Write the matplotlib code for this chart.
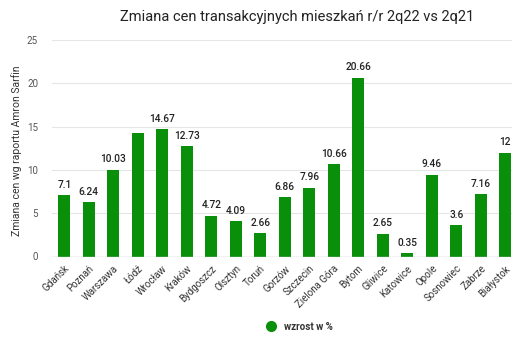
import numpy as np
import matplotlib
matplotlib.use("Agg")
import matplotlib.pyplot as plt
from matplotlib.lines import Line2D

# ── Data ────────────────────────────────────────────────────────────────────
cities = ["Gdańsk", "Poznań", "Warszawa", "Łódź", "Wrocław", "Kraków",
          "Bydgoszcz", "Olsztyn", "Toruń", "Gorzów", "Szczecin",
          "Zielona Góra", "Bytom", "Gliwice", "Katowice", "Opole",
          "Sosnowiec", "Zabrze", "Białystok"]
growth = [7.1, 6.24, 10.03, 14.3, 14.67, 12.73, 4.72, 4.09, 2.66, 6.86,
          7.96, 10.66, 20.66, 2.65, 0.35, 9.46, 3.6, 7.16, 12]
# value labels as shown on the chart (Łódź has none)
labels = ["7.1", "6.24", "10.03", "", "14.67", "12.73", "4.72", "4.09",
          "2.66", "6.86", "7.96", "10.66", "20.66", "2.65", "0.35", "9.46",
          "3.6", "7.16", "12"]
yticks = [0, 5, 10, 15, 20, 25]

GREEN = "#0a8f0a"
plt.rcParams["font.family"] = ["Roboto", "DejaVu Sans"]

fig = plt.figure(figsize=(5.12, 3.51), dpi=100)
# axes run past the right edge of the figure, like the cropped original
ax = fig.add_axes([52 / 512, 94.5 / 351, 490 / 512, 216.5 / 351])

x = np.arange(len(cities))
ax.bar(x, growth, width=0.5, color=GREEN, zorder=3)
for xi, v, lab in zip(x, growth, labels):
    if lab:
        ax.text(xi, v + 0.6, lab, ha="center", va="bottom",
                fontsize=7.3, color="#222222", fontweight="medium")

ax.set_xlim(-0.5, 19.5)
ax.set_ylim(0, 25)
ax.set_yticks(yticks)
ax.tick_params(axis="y", length=0, pad=10, labelsize=7, labelcolor="#555555")
ax.grid(axis="y", color="#e6e6e6", lw=0.8, zorder=0)
for s in ax.spines.values():
    s.set_visible(False)
ax.axhline(0, color="#c5c9d3", lw=1, zorder=4)

ax.set_xticks(x)
ax.set_xticklabels(cities, rotation=45, ha="right", rotation_mode="anchor",
                   fontsize=7, color="#333333")
ax.tick_params(axis="x", length=0, pad=5)

ax.set_ylabel("Zmiana cen wg raportu Amron Sarfin", fontsize=7.5,
              color="#333333")
ax.yaxis.set_label_coords(-0.062, 0.49)
ax.set_title("Zmiana cen transakcyjnych mieszkań r/r 2q22 vs 2q21",
             fontsize=10.5, color="#222222", pad=14)

handle = Line2D([], [], marker="o", ls="", color=GREEN, markersize=7)
ax.legend([handle], ["wzrost w %"], loc="center", frameon=False,
          bbox_to_anchor=(0.5, -0.325), prop={"size": 7, "weight": "bold"},
          handletextpad=0.4, labelcolor="#333333")

plt.savefig("out.png", dpi=100)
